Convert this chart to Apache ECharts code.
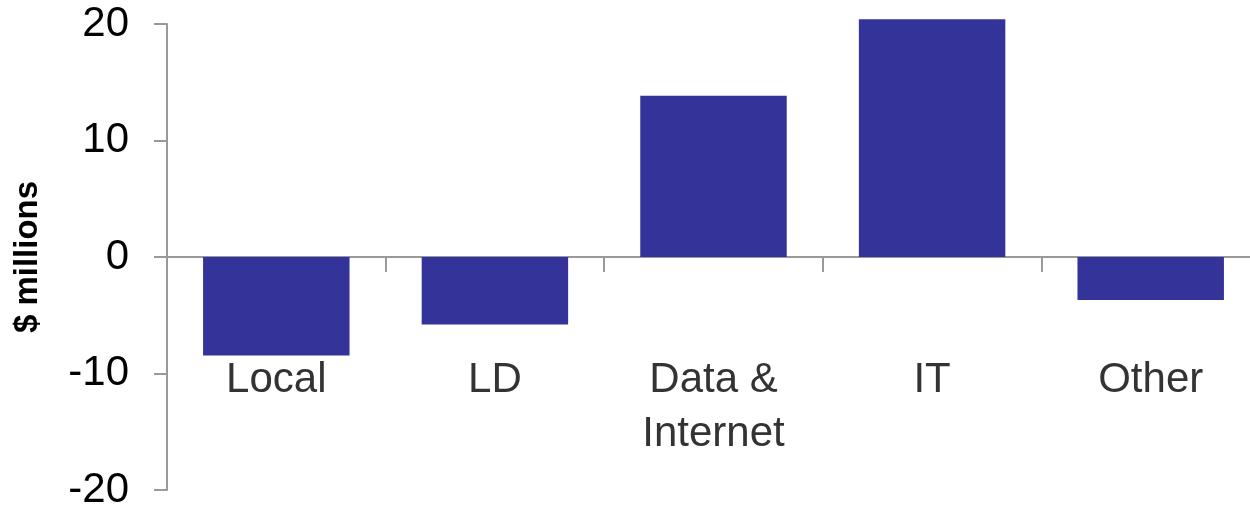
<!DOCTYPE html>
<html>
<head>
<meta charset="utf-8">
<script src="https://cdn.jsdelivr.net/npm/echarts@6/dist/echarts.min.js"></script>
<style>
  html, body { margin: 0; padding: 0; background: #ffffff; }
  #chart { width: 1250px; height: 509px; }
</style>
</head>
<body>
<div id="chart"></div>
<script>
// Change by business segment, $ millions
const categories = ['Local', 'LD', 'Data &\nInternet', 'IT', 'Other'];
const values = [-8.45, -5.8, 13.85, 20.4, -3.7];
const yTicks = { min: -20, max: 20, interval: 10 };
const yAxisTitle = '$ millions';

const chart = echarts.init(document.getElementById('chart'));
const axisGray = '#999999';
const font = 'Liberation Sans, Arial, sans-serif';

chart.setOption({
  animation: false,
  grid: {
    left: 167, top: 24, width: 1093, bottom: 19,
    containLabel: false,
    outerBoundsMode: 'none'
  },
  xAxis: {
    type: 'category',
    data: categories,
    axisLine: { onZero: true, lineStyle: { color: axisGray, width: 2 } },
    axisTick: { show: true, length: 15, lineStyle: { color: axisGray, width: 2 } },
    axisLabel: {
      // category names sit a little below the -10 level, inside the plot
      margin: -137,
      color: '#333333',
      fontFamily: font,
      fontSize: 42,
      lineHeight: 54
    },
    splitLine: { show: false }
  },
  yAxis: {
    type: 'value',
    min: yTicks.min,
    max: yTicks.max,
    interval: yTicks.interval,
    name: yAxisTitle,
    nameLocation: 'middle',
    nameRotate: 90,
    nameGap: 123,
    nameTextStyle: { color: '#000000', fontFamily: font, fontSize: 33, fontWeight: 'bold' },
    axisLine: { show: true, lineStyle: { color: axisGray, width: 2 } },
    axisTick: { show: true, length: 13, lineStyle: { color: axisGray, width: 2 } },
    axisLabel: { margin: 38, color: '#000000', fontFamily: font, fontSize: 42 },
    splitLine: { show: false }
  },
  series: [{
    type: 'bar',
    data: values,
    clip: false,
    barCategoryGap: '33%',
    itemStyle: { color: '#333399' }
  }]
});
</script>
</body>
</html>
